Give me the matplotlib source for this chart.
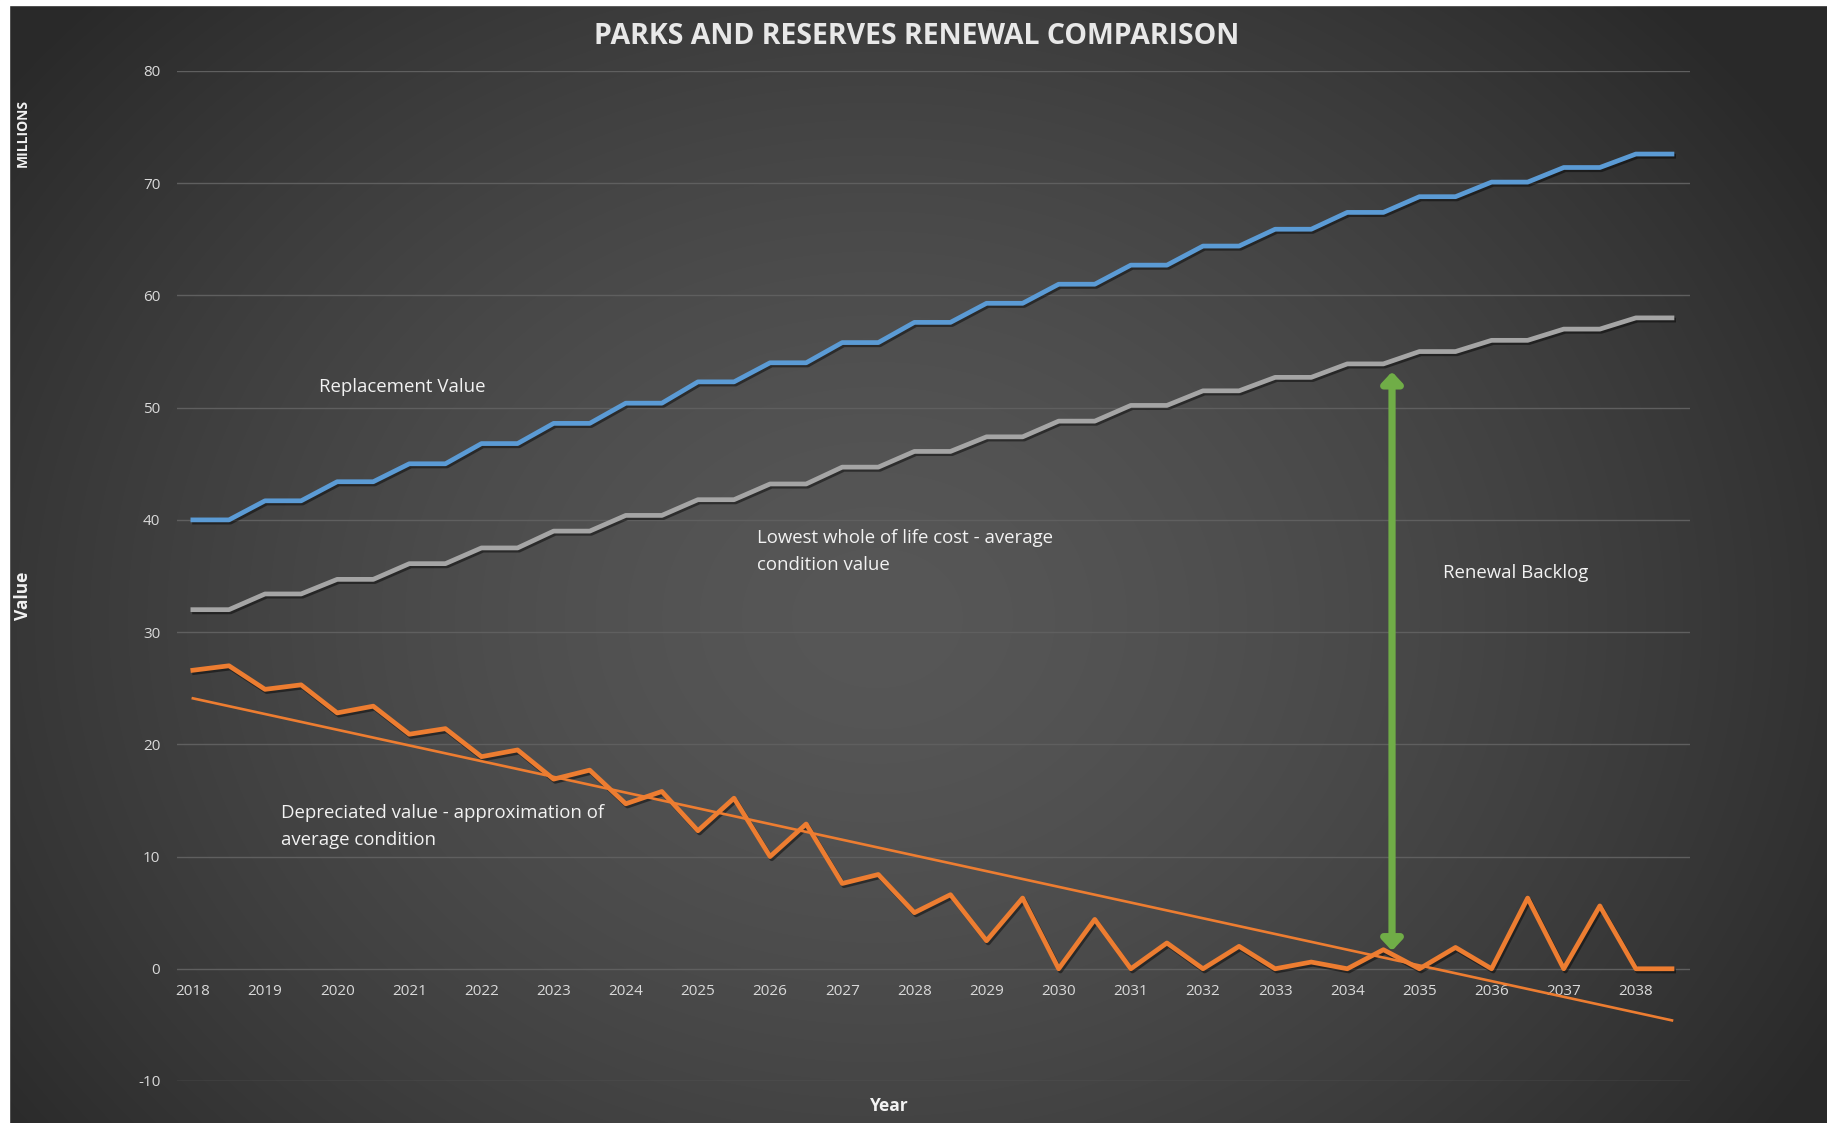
import numpy as np
import matplotlib
matplotlib.use("Agg")
import matplotlib.pyplot as plt
import matplotlib.patheffects as pe
from matplotlib.patches import FancyArrowPatch, Rectangle

plt.rcParams['font.family'] = ['Open Sans', 'DejaVu Sans']
plt.rcParams['axes.unicode_minus'] = False

# half-yearly periods, labelled once per year on the axis
periods = [2018.0, 2018.5, 2019.0, 2019.5, 2020.0, 2020.5, 2021.0, 2021.5,
           2022.0, 2022.5, 2023.0, 2023.5, 2024.0, 2024.5, 2025.0, 2025.5,
           2026.0, 2026.5, 2027.0, 2027.5, 2028.0, 2028.5, 2029.0, 2029.5,
           2030.0, 2030.5, 2031.0, 2031.5, 2032.0, 2032.5, 2033.0, 2033.5,
           2034.0, 2034.5, 2035.0, 2035.5, 2036.0, 2036.5, 2037.0, 2037.5,
           2038.0, 2038.5]
year_ticks = [2018, 2019, 2020, 2021, 2022, 2023, 2024, 2025, 2026, 2027, 2028,
              2029, 2030, 2031, 2032, 2033, 2034, 2035, 2036, 2037, 2038]

# values in millions
replacement_value = [40.0, 40.0, 41.7, 41.7, 43.4, 43.4, 45.0, 45.0, 46.8, 46.8,
                     48.6, 48.6, 50.4, 50.4, 52.3, 52.3, 54.0, 54.0, 55.8, 55.8,
                     57.6, 57.6, 59.3, 59.3, 61.0, 61.0, 62.7, 62.7, 64.4, 64.4,
                     65.9, 65.9, 67.4, 67.4, 68.8, 68.8, 70.1, 70.1, 71.4, 71.4,
                     72.6, 72.6]
lowest_wol_cost = [32.0, 32.0, 33.4, 33.4, 34.7, 34.7, 36.1, 36.1, 37.5, 37.5,
                   39.0, 39.0, 40.4, 40.4, 41.8, 41.8, 43.2, 43.2, 44.7, 44.7,
                   46.1, 46.1, 47.4, 47.4, 48.8, 48.8, 50.2, 50.2, 51.5, 51.5,
                   52.7, 52.7, 53.9, 53.9, 55.0, 55.0, 56.0, 56.0, 57.0, 57.0,
                   58.0, 58.0]
depreciated_value = [26.6, 27.0, 24.9, 25.3, 22.8, 23.4, 20.9, 21.4, 18.9, 19.5,
                     16.9, 17.7, 14.7, 15.8, 12.3, 15.2, 10.0, 12.9, 7.6, 8.4,
                     5.0, 6.6, 2.5, 6.3, 0.0, 4.4, 0.0, 2.3, 0.0, 2.0,
                     0.0, 0.6, 0.0, 1.7, 0.0, 1.9, 0.0, 6.3, 0.0, 5.6,
                     0.0, 0.0]
# linear trend of the depreciated value, first and last period
trend_x = [2018.0, 2038.5]
trend_y = [24.1, -4.6]

# renewal backlog marker
backlog_x = 2034.62
backlog_bottom = 1.6
backlog_top = 53.2

W, H = 1827, 1123
fig = plt.figure(figsize=(W / 100, H / 100), dpi=100)

# dark radial gradient behind everything
bg = fig.add_axes([0, 0, 1, 1], zorder=-5)
yy, xx = np.mgrid[0:H, 0:W]
r = np.sqrt(((xx - 0.48 * W) / (0.60 * W)) ** 2 + ((yy - 0.55 * H) / (0.80 * H)) ** 2)
shade = (0x57 - (0x57 - 0x29) * np.clip(r, 0, 1) ** 1.5) / 255.0
bg.imshow(np.dstack([shade, shade, shade]), aspect='auto', extent=[0, 1, 0, 1],
          interpolation='bilinear')
bg.set_axis_off()
fig.patches.append(Rectangle((0, 1 - 5 / H), 1, 5 / H, transform=fig.transFigure,
                             color='white', zorder=-4))
fig.patches.append(Rectangle((0, 0), 9 / W, 1, transform=fig.transFigure,
                             color='white', zorder=-4))

ax = fig.add_axes([177 / W, 1 - 1081 / H, (1690 - 177) / W, (1081 - 71) / H])
ax.patch.set_alpha(0)
ax.set_xlim(2017.78, 2038.75)
ax.set_ylim(-10, 80)

shadow = [pe.SimpleLineShadow(offset=(1.2, -1.6), shadow_color='black', alpha=0.45),
          pe.Normal()]
ax.plot(periods, replacement_value, color='#5b9bd5', lw=3.4,
        solid_joinstyle='round', path_effects=shadow, zorder=3)
ax.plot(periods, lowest_wol_cost, color='#a5a5a5', lw=3.4,
        solid_joinstyle='round', path_effects=shadow, zorder=3)
ax.plot(periods, depreciated_value, color='#ed7d31', lw=3.4,
        solid_joinstyle='round', path_effects=shadow, zorder=3)
ax.plot(trend_x, trend_y, color='#ed7d31', lw=1.9, zorder=3)

arrow = FancyArrowPatch((backlog_x, backlog_bottom), (backlog_x, backlog_top),
                        arrowstyle='<|-|>,head_length=0.32,head_width=0.3',
                        mutation_scale=20, color='#70ad47', lw=5.2,
                        shrinkA=0, shrinkB=0, zorder=4)
ax.add_patch(arrow)

ax.set_yticks([-10, 0, 10, 20, 30, 40, 50, 60, 70, 80])
ax.set_xticks(year_ticks)
ax.set_xticklabels([str(y) for y in year_ticks])
ax.grid(axis='y', color='#5f5f5f', lw=1.0)
ax.set_axisbelow(True)
for s in ax.spines.values():
    s.set_visible(False)
ax.spines['bottom'].set_position(('data', 0))
ax.tick_params(axis='both', length=0, colors='#d9d9d9', labelsize=11)
ax.tick_params(axis='y', pad=12)
ax.tick_params(axis='x', pad=11)

txt = '#f2f2f2'
ax.text(2019.75, 51.8, 'Replacement Value', color=txt, fontsize=13.4, va='center')
ax.text(2025.82, 37.2, 'Lowest whole of life cost - average\ncondition value',
        color=txt, fontsize=13.4, va='center', linespacing=1.65)
ax.text(2035.32, 35.3, 'Renewal Backlog', color=txt, fontsize=13.4, va='center')
ax.text(2019.22, 12.7, 'Depreciated value - approximation of\naverage condition',
        color=txt, fontsize=13.4, va='center', linespacing=1.65)

fig.text(917 / W, 1 - 36 / H, 'PARKS AND RESERVES RENEWAL COMPARISON',
         color='#e8e8e8', fontsize=20.5, fontweight='bold', ha='center', va='center')
fig.text(23 / W, 1 - 133 / H, 'MILLIONS', color=txt, fontsize=10,
         fontweight='bold', rotation=90, ha='center', va='center')
fig.text(23 / W, 1 - 596 / H, 'Value', color=txt, fontsize=12.5,
         fontweight='bold', rotation=90, ha='center', va='center')
fig.text(889 / W, 1 - 1106 / H, 'Year', color=txt, fontsize=12.5,
         fontweight='bold', ha='center', va='center')

fig.savefig('out.png', dpi=100)
